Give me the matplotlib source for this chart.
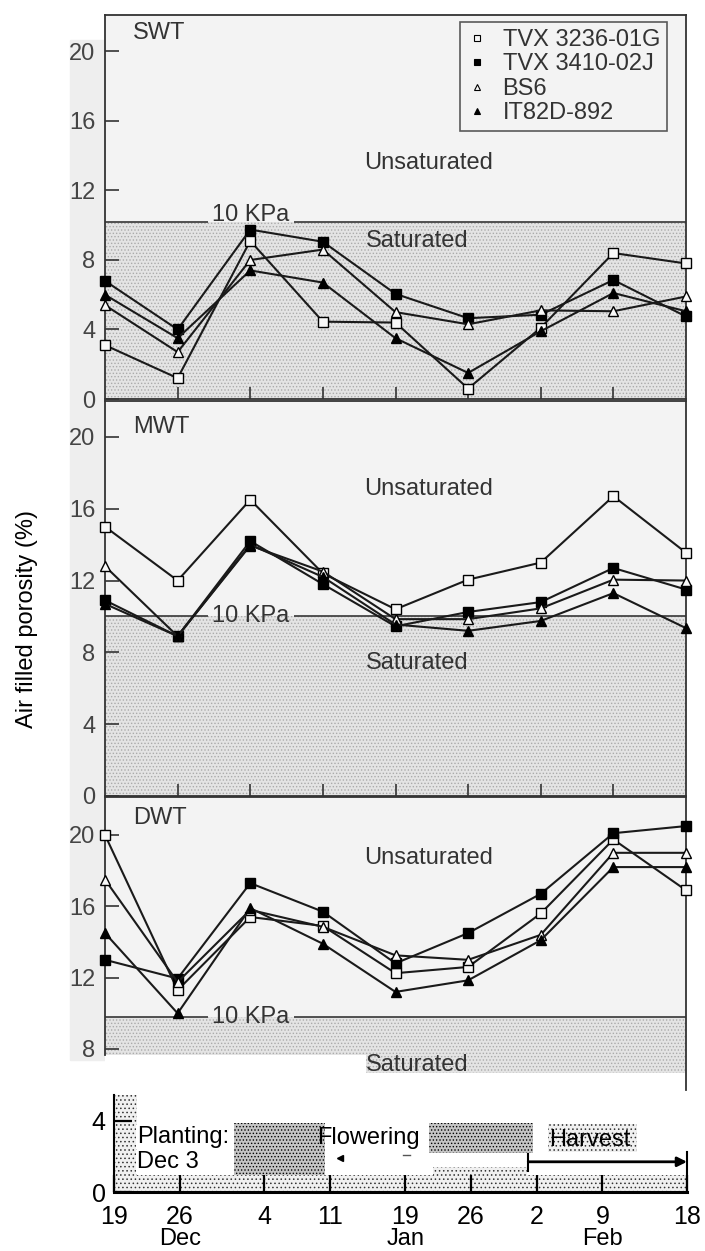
import matplotlib.pyplot as plt
import numpy as np
from matplotlib.lines import Line2D
from matplotlib.patches import Rectangle

plt.rcParams['font.family'] = ['Liberation Sans', 'DejaVu Sans']
plt.rcParams['hatch.linewidth'] = 0.6

# sampling dates (evenly spaced in the three porosity panels)
dates = ['19 Dec', '26 Dec', '4 Jan', '11 Jan', '19 Jan', '26 Jan', '2 Feb', '9 Feb', '18 Feb']
varieties = ['TVX 3236-01G', 'TVX 3410-02J', 'BS6', 'IT82D-892']

# air filled porosity (%) per water table depth
swt = {
    'TVX 3236-01G': [3.1, 1.2, 9.1, 4.45, 4.4, 0.6, 4.1, 8.4, 7.8],
    'TVX 3410-02J': [6.8, 4.0, 9.75, 9.05, 6.05, 4.65, 4.85, 6.85, 4.75],
    'BS6':          [5.4, 2.7, 8.0, 8.6, 5.0, 4.3, 5.1, 5.05, 5.9],
    'IT82D-892':    [6.0, 3.5, 7.4, 6.7, 3.5, 1.5, 3.9, 6.1, 5.05],
}
mwt = {
    'TVX 3236-01G': [15.0, 12.0, 16.5, 12.4, 10.4, 12.05, 13.0, 16.7, 13.55],
    'TVX 3410-02J': [10.9, 8.9, 14.2, 11.8, 9.45, 10.25, 10.8, 12.7, 11.5],
    'BS6':          [12.8, 8.9, 13.95, 12.5, 9.85, 9.85, 10.45, 12.05, 12.0],
    'IT82D-892':    [10.7, 8.9, 14.0, 12.2, 9.55, 9.2, 9.75, 11.3, 9.35],
}
dwt = {
    'TVX 3236-01G': [20.0, 11.3, 15.4, 14.9, 12.25, 12.6, 15.6, 19.75, 16.9],
    'TVX 3410-02J': [13.0, 11.95, 17.3, 15.7, 12.8, 14.5, 16.7, 20.1, 20.5],
    'BS6':          [17.5, 11.75, 15.8, 14.85, 13.25, 13.0, 14.4, 19.0, 19.0],
    'IT82D-892':    [14.5, 10.0, 15.9, 13.9, 11.2, 11.85, 14.1, 18.2, 18.2],
}
kpa_level = [10.2, 10.0, 9.8]

# crop calendar strip (days after 19 Dec)
strip_days = [0, 7, 16, 23, 31, 38, 45, 52, 61]
strip_labels = ['19', '26', '4', '11', '19', '26', '2', '9', '18']
months = ['Dec', 'Jan', 'Feb']
month_days = [7, 31, 52]

styles = {
    'TVX 3236-01G': dict(marker='s', mfc='#f8f8f8'),
    'TVX 3410-02J': dict(marker='s', mfc='black'),
    'BS6':          dict(marker='^', mfc='#f8f8f8'),
    'IT82D-892':    dict(marker='^', mfc='black'),
}

W, H = 705, 1251
fig = plt.figure(figsize=(W / 100, H / 100), dpi=100)
fig.patches.append(Rectangle((70 / W, 1 - 1060 / H), 35 / W, 1020 / H,
                             transform=fig.transFigure, color='#eeeeee', zorder=-5))

bg = '#f3f3f3'
fs = 17
panels = [
    ('SWT', swt, (15, 399), (0, 22.1), [0, 4, 8, 12, 16, 20]),
    ('MWT', mwt, (401, 796), (0, 22.0), [0, 4, 8, 12, 16, 20]),
    ('DWT', dwt, (797, 1090), (5.7, 22.13), [8, 12, 16, 20]),
]
unsat_y = [13.6, 17.1, 18.7]
sat_y = [9.1, 7.4, 7.1]
kpa_dy = [0.4, 0.0, 0.0]
x = np.arange(len(dates))
stip = dict(facecolor='#e4e4e4', edgecolor='#ababab', hatch='.....', linewidth=0, zorder=1)

for i, (name, data, (ytop, ybot), ylim, yticks) in enumerate(panels):
    ax = fig.add_axes([105 / W, 1 - ybot / H, 581 / W, (ybot - ytop) / H])
    ax.set_facecolor(bg)
    ax.set_xlim(0, 8)
    ax.set_ylim(*ylim)
    lvl = kpa_level[i]
    if name == 'DWT':
        ax.fill_between([0, 8], 7.65, lvl, **stip)
        ax.fill_between([3.6, 8], 6.65, 7.65, **stip)
        ax.fill_between([0, 3.6], ylim[0], 7.65, facecolor='white', linewidth=0, zorder=1)
        ax.fill_between([3.6, 8], ylim[0], 6.65, facecolor='white', linewidth=0, zorder=1)
        ax.spines['bottom'].set_visible(False)
        ax.spines['left'].set_bounds(7.65, ylim[1])
        ax.set_xticks([])
    else:
        ax.fill_between([0, 8], ylim[0], lvl, **stip)
        ax.set_xticks(range(1, 8))
        ax.tick_params(axis='x', direction='in', length=9, width=1.2, labelbottom=False,
                       color='#333333')
    # 10 KPa line, broken where the label sits
    ax.hlines([lvl, lvl], [0, 2.6], [1.42, 8], color='#444444', lw=1.3, zorder=2)
    ax.text(2.0, lvl + kpa_dy[i], '10 KPa', ha='center', va='center', fontsize=fs,
            color='#333333', zorder=3)
    ax.set_yticks(yticks)
    ax.tick_params(axis='y', direction='in', length=10, width=1.2, labelsize=fs,
                   pad=7, labelcolor='#444444', color='#333333')
    for sp in ax.spines.values():
        sp.set_color('#333333')
        sp.set_linewidth(1.3)

    for v in varieties:
        ax.plot(x, data[v], color='#1a1a1a', lw=1.5, ms=7.5, mec='black', mew=1.0,
                clip_on=False, zorder=5, **styles[v])

    ax.text(0.048, {'SWT': 0.953, 'MWT': 0.934, 'DWT': 0.928}[name], name,
            transform=ax.transAxes, ha='left', va='center', fontsize=fs, color='#333333')
    ax.text(4.46, unsat_y[i], 'Unsaturated', ha='center', va='center', fontsize=fs,
            color='#333333', zorder=4)
    ax.text(4.3, sat_y[i], 'Saturated', ha='center', va='center', fontsize=fs,
            color='#333333', zorder=4)

    if name == 'SWT':
        handles = [Line2D([], [], ls='none', color='black', ms=5, mec='black', mew=0.8,
                          **styles[v]) for v in varieties]
        leg = ax.legend(handles, varieties, loc='upper right',
                        bbox_to_anchor=(667 / W, 1 - 22 / H), bbox_transform=fig.transFigure,
                        fontsize=fs, frameon=True, fancybox=False, labelspacing=0.1,
                        handlelength=0.8, handletextpad=0.7, borderpad=0.3,
                        borderaxespad=0)
        leg.get_frame().set_edgecolor('#333333')
        leg.get_frame().set_facecolor(bg)
        leg.get_frame().set_linewidth(1.2)
        for t in leg.get_texts():
            t.set_color('#333333')

fig.text(27 / W, 1 - 619 / H, 'Air filled porosity (%)', rotation=90, ha='center',
         va='center', fontsize=fs)

# crop calendar strip
sx = fig.add_axes([114 / W, 1 - 1192 / H, 573 / W, 97 / H])
sx.set_xlim(0, 61)
sx.set_ylim(0, 5.46)
dense = dict(facecolor='#c4c4c4', edgecolor='black', hatch='.....', linewidth=0)
light = dict(facecolor='#f0f0f0', edgecolor='#333333', hatch='....', linewidth=0)
sx.add_patch(Rectangle((0, 0), 61, 0.95, **light))
sx.add_patch(Rectangle((0, 0), 2.45, 5.46, **light))
sx.add_patch(Rectangle((12.8, 0.95), 9.7, 2.95, **dense))
sx.add_patch(Rectangle((33.5, 2.2), 11.1, 1.7, **dense))
sx.add_patch(Rectangle((34.0, 0.95), 10.0, 0.45, **light))
sx.add_patch(Rectangle((46.2, 2.25), 9.5, 1.55, **light))
sx.text(2.45, 3.1, 'Planting:', ha='left', va='center', fontsize=fs,
        bbox=dict(facecolor='white', edgecolor='none', pad=0.5))
sx.text(2.45, 1.7, 'Dec 3', ha='left', va='center', fontsize=fs,
        bbox=dict(facecolor='white', edgecolor='none', pad=0.5))
sx.text(27.05, 3.05, 'Flowering', ha='center', va='center', fontsize=fs)
sx.text(50.7, 2.9, 'Harvest', ha='center', va='center', fontsize=fs)
sx.plot([24.1], [1.9], marker='<', color='black', ms=4)
sx.plot([30.8, 31.5], [2.1, 2.1], color='#555555', lw=1)
sx.annotate('', xy=(61, 1.7), xytext=(44.1, 1.7),
            arrowprops=dict(arrowstyle='-|>', color='black', lw=2, mutation_scale=14,
                            shrinkA=0, shrinkB=0))
sx.plot([44.1, 44.1], [1.2, 2.15], color='black', lw=1.5)
sx.spines['top'].set_visible(False)
sx.spines['right'].set_bounds(0, 2.25)
sx.spines['bottom'].set_linewidth(2.2)
sx.spines['left'].set_linewidth(1.5)
sx.spines['right'].set_linewidth(1.5)
sx.set_xticks(strip_days)
sx.set_xticklabels(strip_labels)
sx.set_yticks([0, 4])
sx.tick_params(axis='x', direction='in', length=12, width=1.6, labelsize=18, pad=9)
sx.tick_params(axis='y', direction='in', length=13, width=1.6, labelsize=18, pad=6)
for m, d in zip(months, month_days):
    sx.text(d, -2.65, m, ha='center', va='center', fontsize=fs)

fig.savefig('out.png', dpi=100)
